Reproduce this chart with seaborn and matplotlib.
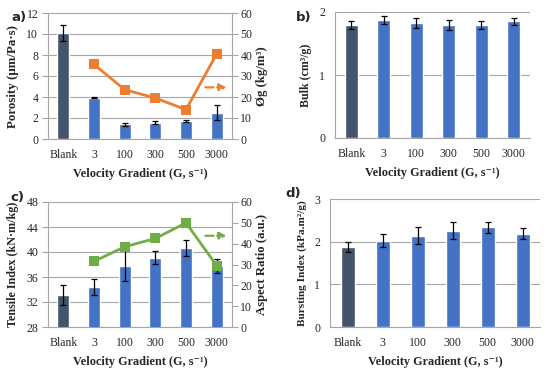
import matplotlib
matplotlib.use("Agg")
import matplotlib.pyplot as plt
import seaborn as sns
import numpy as np
import pandas as pd

# datos
categorias = ["Blank", "3", "100", "300", "500", "3000"]

porosidad = [10.1, 3.95, 1.4, 1.55, 1.75, 2.5]
porosidad_err = [0.75, 0.05, 0.15, 0.12, 0.1, 0.7]
densidad_g = [35.5, 23.5, 19.5, 14.0, 40.5]   # Øg, sin Blank

bulk = [1.79, 1.87, 1.83, 1.80, 1.79, 1.85]
bulk_err = [0.06, 0.06, 0.08, 0.08, 0.06, 0.05]

tension = [33.1, 34.4, 37.8, 39.1, 40.7, 37.8]
tension_err = [1.6, 1.3, 2.5, 1.0, 1.3, 1.1]
aspecto = [31.5, 38.5, 42.5, 50.0, 29.5]       # sin Blank

reventamiento = [1.87, 2.02, 2.14, 2.26, 2.34, 2.19]
reventamiento_err = [0.12, 0.15, 0.2, 0.2, 0.13, 0.13]

azul_oscuro = "#44546A"
azul = "#4472C4"
naranja = "#ED7D31"
verde = "#70AD47"
gris = "#A6A6A6"
colores = [azul_oscuro] + [azul] * 5

sns.set_style("white")
plt.rcParams["font.family"] = ["Liberation Serif", "DejaVu Serif"]

fig = plt.figure(figsize=(5.5, 3.73), dpi=100)
W, H = 550, 373
def caja(x0, y0, x1, y1):
    return [x0 / W, 1 - y1 / H, (x1 - x0) / W, (y1 - y0) / H]

ax_a = fig.add_axes(caja(48, 13, 232, 139))
ax_b = fig.add_axes(caja(335, 12, 530, 138))
ax_c = fig.add_axes(caja(48, 202, 232, 327))
ax_d = fig.add_axes(caja(330, 199, 540, 327))

xlabel = "Velocity Gradient (G, s⁻¹)"

def panel_barras(ax, valores, errores, ylim, yticks, ylabel, ysize):
    df = pd.DataFrame({"cat": categorias, "val": valores})
    sns.barplot(data=df, x="cat", y="val", hue="cat", palette=colores,
                order=categorias, width=0.4, saturation=1, legend=False,
                ax=ax, zorder=3)
    ax.errorbar(np.arange(len(categorias)), valores, yerr=errores, fmt="none",
                ecolor="black", elinewidth=0.9, capsize=2.5, capthick=0.9, zorder=4)
    ax.set_ylim(*ylim)
    ax.set_yticks(yticks)
    ax.set_xlim(-0.5, len(categorias) - 0.5)
    ax.yaxis.grid(True, color=gris, linewidth=0.8, zorder=0)
    ax.set_axisbelow(True)
    ax.set_xlabel(xlabel, fontsize=8.8, fontweight="bold", labelpad=5)
    ax.set_ylabel(ylabel, fontsize=ysize, fontweight="bold", labelpad=5)
    ax.tick_params(axis="x", which="major", length=0, labelsize=8.5, pad=7)
    ax.tick_params(axis="y", length=4, color=gris, width=0.8, labelsize=8.5, pad=3)
    ax.set_xticks(np.arange(-0.5, len(categorias)), minor=True)
    ax.tick_params(axis="x", which="minor", length=4, color=gris, width=0.8)
    for lado in ["top", "right"]:
        ax.spines[lado].set_visible(False)
    for lado in ["left", "bottom"]:
        ax.spines[lado].set_color(gris)
        ax.spines[lado].set_linewidth(0.8)

def linea_secundaria(ax, valores, color, ylim, yticks, ylabel, flecha_y):
    ax2 = ax.twinx()
    x = np.arange(1, len(categorias))
    sns.lineplot(x=x, y=valores, color=color, marker="s", markersize=7,
                 markeredgewidth=0, linewidth=2, ax=ax2, zorder=5)
    ax2.set_ylim(*ylim)
    ax2.set_yticks(yticks)
    ax2.set_ylabel(ylabel, fontsize=9.2, fontweight="bold", labelpad=3)
    ax2.tick_params(axis="y", length=4, color=gris, width=0.8, labelsize=8.5, pad=2)
    for lado in ["top", "left", "bottom"]:
        ax2.spines[lado].set_visible(False)
    ax2.spines["right"].set_color(gris)
    ax2.spines["right"].set_linewidth(0.8)
    ax2.annotate("", xy=(0.985, flecha_y), xytext=(0.84, flecha_y),
                 xycoords="axes fraction",
                 arrowprops=dict(arrowstyle="-|>", color=color, linestyle="--",
                                 linewidth=1.6, mutation_scale=10))
    return ax2

panel_barras(ax_a, porosidad, porosidad_err, (0, 12), np.arange(0, 13, 2),
             "Porosity (μm/Pa·s)", 9.3)
linea_secundaria(ax_a, densidad_g, naranja, (0, 60), np.arange(0, 61, 10),
                 "Øg (kg/m³)", 0.41)

panel_barras(ax_b, bulk, bulk_err, (0, 2), [0, 1, 2], "Bulk (cm³/g)", 8.6)

panel_barras(ax_c, tension, tension_err, (28, 48), np.arange(28, 49, 4),
             "Tensile Index (kN·m/kg)", 8.7)
linea_secundaria(ax_c, aspecto, verde, (0, 60), np.arange(0, 61, 10),
                 "Aspect Ratio (a.u.)", 0.73)

panel_barras(ax_d, reventamiento, reventamiento_err, (0, 3), [0, 1, 2, 3],
             "Bursting Index (kPa.m²/g)", 8.1)

# letras de los paneles
for letra, px, py in [("a)", 19, 18), ("b)", 304, 17), ("c)", 17, 197), ("d)", 293, 193)]:
    fig.text(px / W, 1 - py / H, letra, ha="center", va="center",
             fontsize=9.5, fontweight="bold", family="DejaVu Sans")

fig.savefig("out.png", dpi=100)
